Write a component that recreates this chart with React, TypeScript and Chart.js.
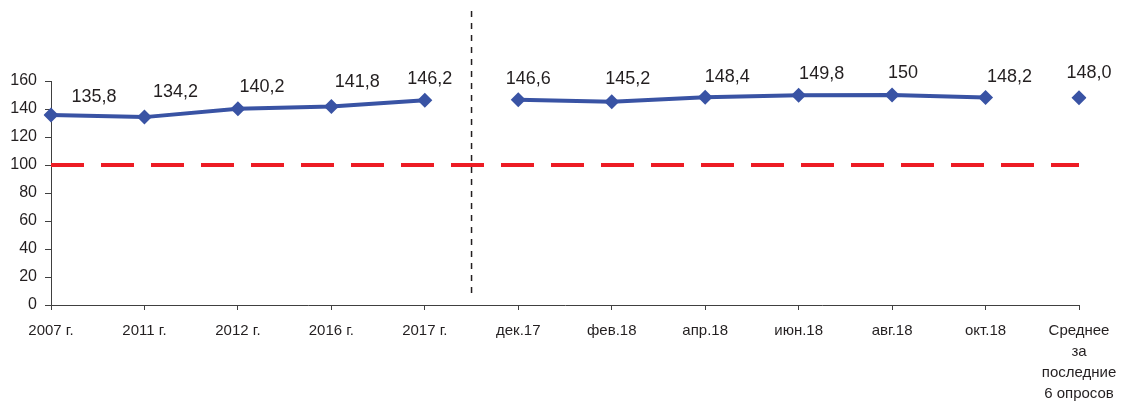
import React, { useEffect, useRef } from "react";
import { Chart, registerables } from "chart.js";

Chart.register(...registerables);

const categories: (string | string[])[] = [
  "2007 г.", "2011 г.", "2012 г.", "2016 г.", "2017 г.",
  "дек.17", "фев.18", "апр.18", "июн.18", "авг.18", "окт.18",
  ["Среднее", "за", "последние", "6 опросов"],
];
const values = [135.8, 134.2, 140.2, 141.8, 146.2, 146.6, 145.2, 148.4, 149.8, 150, 148.2, 148.0];
const valueLabels = ["135,8", "134,2", "140,2", "141,8", "146,2", "146,6", "145,2", "148,4", "149,8", "150", "148,2", "148,0"];
const referenceValue = 100;
const breakAfter = [4, 10]; // no connecting segment after these indices
const dividerAfterIndex = 4; // vertical divider between this and next category
const yTicks = [0, 20, 40, 60, 80, 100, 120, 140, 160];

// label offsets (style)
const labelDx = [43, 31, 24, 26, 5, 10, 16, 22, 23, 11, 24, 10];
const labelDy = [-18, -25, -22, -24, -21, -21, -23, -20, -21, -22, -20, -25];

const BLUE = "#3953A4";
const FONT = "'Liberation Sans', Arial, sans-serif";

const labelsPlugin = {
  id: "valueLabels",
  afterDatasetsDraw(chart: any) {
    const meta = chart.getDatasetMeta(0);
    const ctx = chart.ctx;
    ctx.save();
    ctx.font = `18px ${FONT}`;
    ctx.fillStyle = "#231F20";
    ctx.textAlign = "center";
    ctx.textBaseline = "middle";
    meta.data.forEach((pt: any, i: number) => {
      ctx.fillText(valueLabels[i], pt.x + labelDx[i], pt.y + labelDy[i]);
    });
    ctx.restore();
  },
};

const dividerPlugin = {
  id: "divider",
  afterDraw(chart: any) {
    const xs = chart.scales.x;
    const ys = chart.scales.y;
    const x = (xs.getPixelForValue(dividerAfterIndex) + xs.getPixelForValue(dividerAfterIndex + 1)) / 2;
    const ctx = chart.ctx;
    ctx.save();
    ctx.strokeStyle = "#231F20";
    ctx.lineWidth = 1.5;
    ctx.setLineDash([6, 6]);
    ctx.beginPath();
    ctx.moveTo(x, ys.getPixelForValue(210));
    ctx.lineTo(x, ys.getPixelForValue(5));
    ctx.stroke();
    ctx.restore();
  },
};

export default function App() {
  const ref = useRef<HTMLCanvasElement | null>(null);
  useEffect(() => {
    document.body.style.margin = "0";
    const chart = new Chart(ref.current!, {
      type: "line",
      data: {
        labels: categories,
        datasets: [
          {
            data: values,
            borderColor: BLUE,
            backgroundColor: BLUE,
            borderWidth: 4,
            pointStyle: "rectRot",
            pointRadius: 7.5,
            pointBackgroundColor: BLUE,
            pointBorderColor: BLUE,
            pointBorderWidth: 0,
            tension: 0,
            segment: {
              borderColor: (c: any) => (breakAfter.includes(c.p0DataIndex) ? "transparent" : BLUE),
            },
            order: 0,
          },
          {
            data: categories.map(() => referenceValue),
            borderColor: "#ED1C24",
            borderWidth: 4,
            borderDash: [33, 17],
            pointRadius: 0,
            tension: 0,
            order: 1,
          },
        ],
      },
      options: {
        animation: false,
        responsive: false,
        maintainAspectRatio: false,
        layout: { padding: { top: 81, right: 42, left: 0, bottom: 0 } },
        plugins: { legend: { display: false }, tooltip: { enabled: false } },
        scales: {
          x: {
            offset: false,
            grid: { display: true, drawOnChartArea: false, drawTicks: true, tickLength: 5, color: "#404040", offset: false },
            border: { display: true, color: "#404040", width: 1 },
            ticks: {
              color: "#231F20",
              font: { family: FONT, size: 15, lineHeight: 1.4 },
              padding: 10,
              maxRotation: 0,
              autoSkip: false,
            },
            afterFit: (s: any) => {
              s.height = 96;
              s.paddingLeft = 0;
              s.paddingRight = 0;
            },
          },
          y: {
            min: 0,
            max: 160,
            afterBuildTicks: (s: any) => { s.ticks = yTicks.map((v) => ({ value: v })); },
            grid: { display: true, drawOnChartArea: false, drawTicks: true, tickLength: 6, color: "#404040" },
            border: { display: true, color: "#404040", width: 1 },
            ticks: {
              color: "#231F20",
              font: { family: FONT, size: 16 },
              padding: 8,
            },
            afterFit: (s: any) => {
              s.width = 51;
              s.paddingTop = 0;
              s.paddingBottom = 0;
            },
          },
        },
      },
      plugins: [labelsPlugin, dividerPlugin],
    });
    return () => chart.destroy();
  }, []);
  return (
    <div style={{ width: 1121, height: 401 }}>
      <canvas ref={ref} width={1121} height={401} style={{ width: 1121, height: 401, display: "block" }} />
    </div>
  );
}
